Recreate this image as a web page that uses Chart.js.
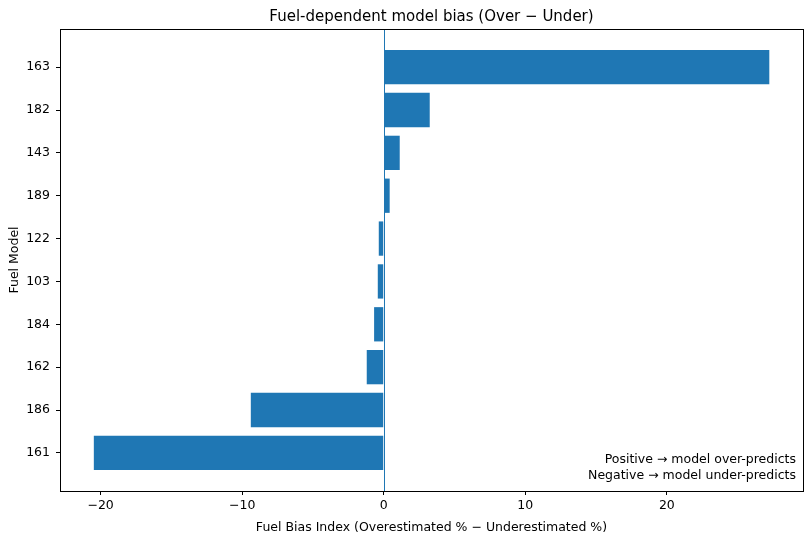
<!DOCTYPE html>
<html lang="en">
<head>
  <meta charset="UTF-8">
  <title>Fuel-dependent model bias</title>
  <script src="https://cdn.jsdelivr.net/npm/chart.js"></script>
  <style>
    html, body { margin: 0; padding: 0; background: #fff; }
    #wrap { width: 812px; height: 540px; }
  </style>
</head>
<body>
<div id="wrap"><canvas id="biasChart"></canvas></div>
<script>
// top to bottom
const fuelModels = ['163', '182', '143', '189', '122', '103', '184', '162', '186', '161'];
const biasValues = [27.24, 3.25, 1.13, 0.42, -0.35, -0.42, -0.68, -1.2, -9.39, -20.48];
const xTicks = [-20, -10, 0, 10, 20];
const noteLines = ['Positive \u2192 model over-predicts', 'Negative \u2192 model under-predicts'];

const FONT = 'DejaVu Sans';
const SMALL = 12.5;
const barColor = '#1f77b4';

const fmt = v => (v < 0 ? '\u2212' + Math.abs(v) : String(v));

const extras = {
  id: 'extras',
  afterDatasetsDraw(chart) {
    const { ctx, chartArea: a, scales } = chart;
    ctx.save();
    // zero line
    const x0 = Math.round(scales.x.getPixelForValue(0)) + 0.5;
    ctx.strokeStyle = barColor;
    ctx.lineWidth = 1;
    ctx.beginPath();
    ctx.moveTo(x0, a.top);
    ctx.lineTo(x0, a.bottom);
    ctx.stroke();
    // frame
    ctx.strokeStyle = '#000';
    ctx.lineWidth = 1;
    ctx.strokeRect(Math.round(a.left) + 0.5, Math.round(a.top) + 0.5,
      Math.round(a.right - a.left), Math.round(a.bottom - a.top));
    // title
    ctx.fillStyle = '#000';
    ctx.font = '15px "' + FONT + '"';
    ctx.textAlign = 'center';
    ctx.textBaseline = 'middle';
    ctx.fillText('Fuel-dependent model bias (Over \u2212 Under)', (a.left + a.right) / 2, 17);
    // note
    ctx.font = SMALL + 'px "' + FONT + '"';
    ctx.textAlign = 'right';
    ctx.fillText(noteLines[0], a.right - 7, a.bottom - 31);
    ctx.fillText(noteLines[1], a.right - 7, a.bottom - 15);
    ctx.restore();
  }
};

new Chart(document.getElementById('biasChart'), {
  type: 'bar',
  data: {
    datasets: [{
      data: biasValues.map((v, i) => ({ x: v, y: i })),
      backgroundColor: barColor,
      borderWidth: 0,
      barPercentage: 0.8,
      categoryPercentage: 1.0
    }]
  },
  options: {
    indexAxis: 'y',
    responsive: true,
    maintainAspectRatio: false,
    animation: false,
    layout: { padding: { top: 29, right: 9, left: 0, bottom: 0 } },
    plugins: { legend: { display: false }, tooltip: { enabled: false } },
    scales: {
      x: {
        type: 'linear',
        min: -22.87,
        max: 29.62,
        afterBuildTicks: s => { s.ticks = xTicks.map(v => ({ value: v })); },
        afterFit: s => { s.height = 49; },
        grid: { drawOnChartArea: false, drawTicks: true, tickLength: 4, color: '#000' },
        border: { display: true, color: '#000' },
        ticks: { color: '#000', font: { family: FONT, size: SMALL }, padding: 3, maxRotation: 0, callback: fmt },
        title: { display: true, text: 'Fuel Bias Index (Overestimated % \u2212 Underestimated %)', color: '#000', font: { family: FONT, size: SMALL }, padding: { top: 1, bottom: 5 } }
      },
      y: {
        type: 'linear',
        reverse: true,
        offset: false,
        min: -0.89,
        max: 9.89,
        afterBuildTicks: s => { s.ticks = fuelModels.map((_, i) => ({ value: i })); },
        afterFit: s => { s.width = 60; },
        grid: { offset: false, drawOnChartArea: false, drawTicks: true, tickLength: 4, color: '#000' },
        border: { display: true, color: '#000' },
        ticks: { color: '#000', font: { family: FONT, size: SMALL }, padding: 6, callback: v => fuelModels[v] },
        title: { display: true, text: 'Fuel Model', color: '#000', font: { family: FONT, size: SMALL }, padding: { top: 7, bottom: 2 } }
      }
    }
  },
  plugins: [extras]
});
</script>
</body>
</html>
